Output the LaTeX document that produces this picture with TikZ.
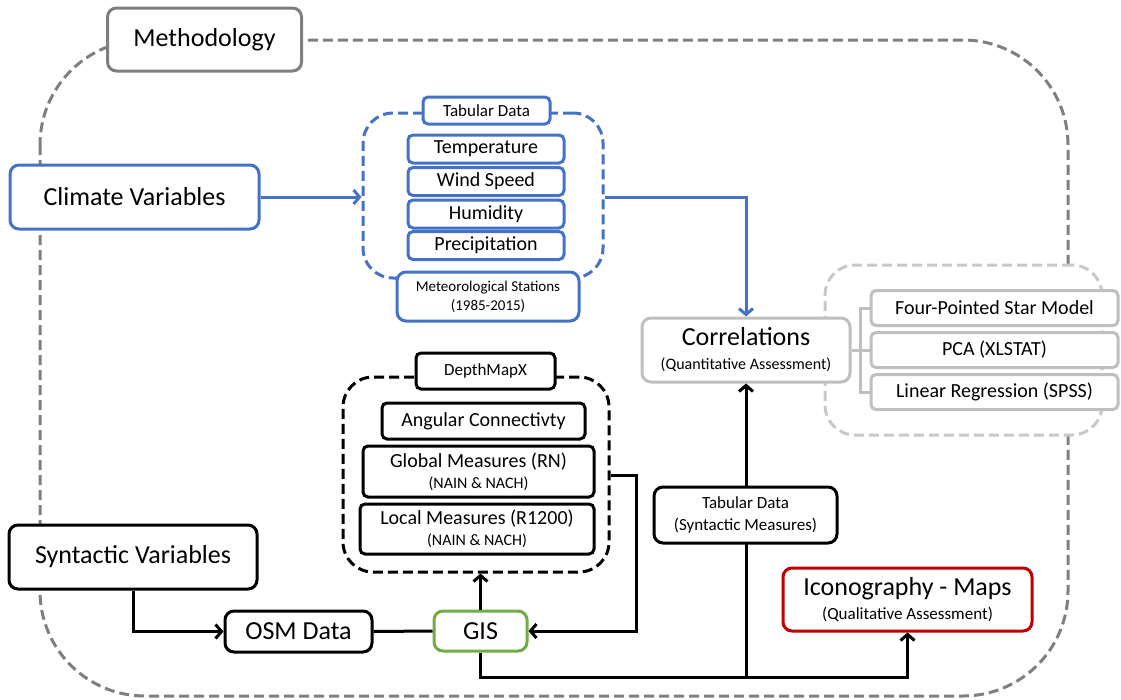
\documentclass[tikz,border=0pt]{standalone}
\usepackage{fontspec}
\setmainfont{Carlito}
\usetikzlibrary{arrows.meta}
\definecolor{cblue}{HTML}{4472C4}
\definecolor{cgreen}{HTML}{70AD47}
\definecolor{cred}{HTML}{C00000}
\definecolor{cgray}{HTML}{7F7F7F}
\definecolor{lgray}{HTML}{BFBFBF}
\definecolor{llgray}{HTML}{C8C8C8}
\newcommand\myfs[2]{\fontsize{#1}{#2}\selectfont}
\begin{document}
\begin{tikzpicture}[x=1pt,y=-1pt,
  box/.style={draw, rounded corners=9pt, line width=3pt, fill=white, inner sep=0pt, align=center},
  sbox/.style={box, rounded corners=5pt},
  cont/.style={draw, line width=3pt, dash pattern=on 10pt off 5pt, rounded corners=30pt, inner sep=0pt},
  conn/.style={line width=3pt},
  arr/.style={-{Straight Barb[length=6pt,width=14pt]}},
  big/.style={font=\myfs{26}{24}},
]
\useasboundingbox (0,0) rectangle (1121,699);
% outer methodology frame
\draw[cgray, line width=3pt, dash pattern=on 10pt off 5pt, rounded corners=105pt] (40,40) rectangle (1068,696);
\node[box, draw=cgray, big, minimum width=194pt, minimum height=63pt] (meth) at (204.5,39.5) {Methodology};

% climate branch
\node[box, draw=cblue, big, minimum width=249pt, minimum height=64pt] (clim) at (134.5,197) {Climate Variables};
\node[cont, draw=cblue, minimum width=240pt, minimum height=165pt] (tab) at (483,195.5) {};
\node[sbox, draw=cblue, font=\myfs{17}{20}, minimum width=127pt, minimum height=27pt] (tabd) at (486.5,110.5) {Tabular Data};
\node[sbox, draw=cblue, font=\myfs{20}{24}, minimum width=156pt, minimum height=28pt] (temp) at (486,149) {Temperature};
\node[sbox, draw=cblue, font=\myfs{20}{24}, minimum width=156pt, minimum height=28pt] (wind) at (486,181.5) {Wind Speed};
\node[sbox, draw=cblue, font=\myfs{20}{24}, minimum width=156pt, minimum height=28pt] (hum) at (486,214) {Humidity};
\node[sbox, draw=cblue, font=\myfs{20}{24}, minimum width=156pt, minimum height=28pt] (prec) at (486,245.5) {Precipitation};
\node[box, draw=cblue, font=\myfs{15}{19}, minimum width=182pt, minimum height=49pt] (met) at (488,296.5) {Meteorological Stations\\(1985-2015)};

% correlations
\node[cont, draw=llgray, fill=white, minimum width=277pt, minimum height=170pt] (stat) at (963.5,350) {};
\node[box, draw=lgray, font=\myfs{16}{24}, minimum width=208pt, minimum height=64pt] (corr) at (746,350) {{\myfs{26}{24}Correlations}\\(Quantitative Assessment)};
\node[sbox, draw=lgray, font=\myfs{20}{24}, minimum width=247pt, minimum height=35pt] (four) at (994.5,308) {Four-Pointed Star Model};
\node[sbox, draw=lgray, font=\myfs{20}{24}, minimum width=247pt, minimum height=35pt] (pca) at (994.5,350) {PCA (XLSTAT)};
\node[sbox, draw=lgray, font=\myfs{20}{24}, minimum width=247pt, minimum height=35pt] (lin) at (994.5,392) {Linear Regression (SPSS)};
\coordinate (bus) at (860,350);
\draw[lgray, conn] (corr.east) -- (bus);
\draw[lgray, conn] (four.west) -| (bus);
\draw[lgray, conn] (lin.west) -| (bus);
\draw[lgray, conn] (pca.west) -- (bus);

% syntactic branch
\node[cont, draw=black, minimum width=266pt, minimum height=195pt] (dmc) at (476,474.5) {};
\node[sbox, font=\myfs{17}{20}, minimum width=139pt, minimum height=36pt] (dmx) at (485.5,371) {DepthMapX};
\node[sbox, font=\myfs{20}{24}, minimum width=203pt, minimum height=36pt] (ang) at (483.5,421) {Angular Connectivty};
\node[sbox, font=\myfs{16}{21}, minimum width=231pt, minimum height=51pt] (glob) at (478.5,471.5) {{\myfs{20}{21}Global Measures (RN)}\\(NAIN \& NACH)};
\node[sbox, font=\myfs{16}{21}, minimum width=234pt, minimum height=50pt] (loc) at (477,529) {{\myfs{20}{21}Local Measures (R1200)}\\(NAIN \& NACH)};

\node[box, big, minimum width=248pt, minimum height=64pt] (syn) at (133,557) {Syntactic Variables};
\node[box, big, minimum width=147pt, minimum height=41pt] (osm) at (298.5,631.5) {OSM Data};
\node[box, draw=cgreen, big, minimum width=93pt, minimum height=40pt] (gis) at (480.5,631) {GIS};
\node[box, draw=cred, font=\myfs{17}{24}, minimum width=249pt, minimum height=63pt] (icon) at (907.5,599.5) {{\myfs{26}{24}Iconography - Maps}\\(Qualitative Assessment)};

% connectors
\draw[cblue, conn, arr] (clim.east) -- (clim.east -| tab.west);
\draw[cblue, conn, arr] (clim.east -| tab.east) -| (corr.north);
\draw[conn, arr] (syn.south) |- (osm.west);
\draw[conn] (osm.east) -- (gis.west);
\draw[conn, arr] (gis.north) -- (gis.north |- dmc.south);
\coordinate (gc) at (636,475);
\draw[conn, arr] (dmc.east |- gc) -- (gc) |- (gis.east);
\coordinate (b1) at (746,677);
\draw[conn] (gis.south) |- (b1);
\draw[conn, arr] (b1) -| (icon.south);
\draw[conn, arr] (b1) -- (corr.south);
\node[box, font=\myfs{17}{22}, minimum width=183pt, minimum height=56pt] (tab2) at (745.5,515) {Tabular Data\\(Syntactic Measures)};
\end{tikzpicture}
\end{document}
